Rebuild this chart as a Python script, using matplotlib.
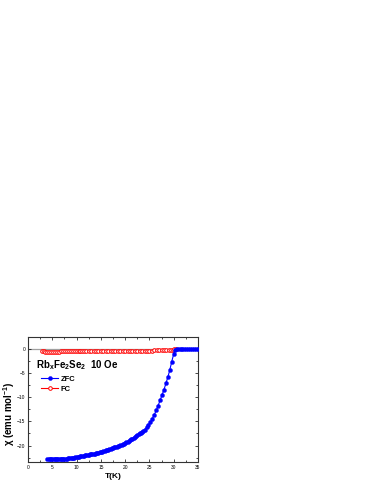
import matplotlib
matplotlib.use("Agg")
import matplotlib.pyplot as plt
from matplotlib.ticker import MultipleLocator

plt.rcParams['font.family'] = ['Liberation Sans', 'DejaVu Sans']
plt.rcParams['mathtext.fontset'] = 'custom'
plt.rcParams['mathtext.rm'] = 'Liberation Sans'
plt.rcParams['mathtext.bf'] = 'Liberation Sans:bold'
plt.rcParams['mathtext.it'] = 'Liberation Sans:italic'

# ZFC curve
t_zfc = [4.0, 4.25, 4.5, 4.75, 5.0, 5.25, 5.5, 5.75, 6.0, 6.25, 6.5, 6.75,
         7.0, 7.25, 7.5, 7.75, 8.0, 8.25, 8.5, 8.75, 9.0, 9.25, 9.5, 9.75,
         10.0, 10.25, 10.5, 10.75, 11.0, 11.25, 11.5, 11.75, 12.0, 12.25,
         12.5, 12.75, 13.0, 13.25, 13.5, 13.75, 14.0, 14.25, 14.5, 14.75,
         15.0, 15.25, 15.5, 15.75, 16.0, 16.25, 16.5, 16.75, 17.0, 17.25,
         17.5, 17.75, 18.0, 18.25, 18.5, 18.75, 19.0, 19.25, 19.5, 19.75,
         20.0, 20.25, 20.5, 20.75, 21.0, 21.25, 21.5, 21.75, 22.0, 22.25,
         22.5, 22.75, 23.0, 23.25, 23.5, 23.75, 24.0,
         24.4, 24.8, 25.2, 25.6, 26.0, 26.4, 26.8, 27.2, 27.6, 28.0, 28.4,
         28.8, 29.2, 29.6, 30.0, 30.3,
         30.6, 31.0, 31.4, 31.8, 32.2, 32.6, 33.0, 33.4, 33.8, 34.2, 34.6,
         35.0]
chi_zfc = [-22.85, -22.85, -22.85, -22.85, -22.85, -22.85, -22.84, -22.83,
           -22.82, -22.81, -22.8, -22.79, -22.77, -22.76, -22.74, -22.71,
           -22.68, -22.65, -22.62, -22.59, -22.55, -22.52, -22.48, -22.44,
           -22.4, -22.35, -22.3, -22.25, -22.2, -22.15, -22.1, -22.05,
           -22.0, -21.95, -21.9, -21.85, -21.8, -21.75, -21.7, -21.65,
           -21.6, -21.53, -21.45, -21.38, -21.3, -21.23, -21.15, -21.08,
           -21.0, -20.92, -20.83, -20.74, -20.65, -20.57, -20.48, -20.39,
           -20.3, -20.21, -20.12, -20.04, -19.95, -19.83, -19.7, -19.58,
           -19.45, -19.32, -19.18, -19.04, -18.9, -18.73, -18.55, -18.38,
           -18.2, -18.03, -17.85, -17.68, -17.5, -17.3, -17.1, -16.9, -16.7,
           -16.2, -15.7, -15.1, -14.4, -13.6, -12.7, -11.7, -10.6, -9.5,
           -8.4, -7.1, -5.8, -4.3, -2.6, -1.0, -0.1,
           0.05, 0.05, 0.05, 0.05, 0.05, 0.05, 0.05, 0.05, 0.05, 0.05, 0.05,
           0.05]

# FC curve
t_fc = [2.8, 3.2, 3.6, 4.0, 4.4, 4.8, 5.2, 5.6, 6.0, 6.4, 6.8, 7.2, 7.6,
        8.0, 8.4, 8.8, 9.2, 9.6, 10.0, 10.4, 10.8, 11.2, 11.6, 12.0, 12.5,
        13.0, 13.5, 14.0, 14.5, 15.0, 15.5, 16.0, 16.5, 17.0, 17.5, 18.0,
        18.5, 19.0, 19.5, 20.0, 20.5, 21.0, 21.5, 22.0, 22.5, 23.0, 23.5,
        24.0, 24.5, 25.0, 25.5, 26.0, 26.5, 27.0, 27.5, 28.0, 28.5, 29.0,
        29.4, 29.8, 30.1, 30.4]
chi_fc = [-0.5, -0.5, -0.52, -0.52, -0.52, -0.52, -0.52, -0.52, -0.52,
          -0.52, -0.5, -0.5, -0.5, -0.5, -0.5, -0.48, -0.48, -0.48, -0.47,
          -0.47, -0.46, -0.46, -0.45, -0.45, -0.44, -0.44, -0.43, -0.43,
          -0.42, -0.42, -0.41, -0.41, -0.4, -0.4, -0.4, -0.39, -0.39, -0.38,
          -0.38, -0.37, -0.37, -0.36, -0.36, -0.35, -0.35, -0.34, -0.34,
          -0.33, -0.33, -0.32, -0.31, -0.3, -0.29, -0.28, -0.27, -0.26,
          -0.24, -0.22, -0.2, -0.15, -0.05, 0.0]

fig = plt.figure(figsize=(3.74, 4.84), dpi=100)
ax = fig.add_axes([0.0749, 0.0455, 0.4545, 0.2583])

ax.axhline(0, color='#a0a0a0', lw=0.9, zorder=1)
ax.plot(t_fc, chi_fc, '-o', color='red', mfc='white', mec='red', ms=2.6,
        mew=0.7, lw=0.8, label='FC', zorder=2)
ax.plot(t_zfc, chi_zfc, '-o', color='blue', ms=2.9, mew=0.3, lw=0.8,
        label='ZFC', zorder=3)

ax.set_xlim(0, 35)
ax.set_ylim(-23.4, 2.5)
ax.xaxis.set_major_locator(MultipleLocator(5))
ax.xaxis.set_minor_locator(MultipleLocator(2.5))
ax.yaxis.set_major_locator(MultipleLocator(5))
ax.yaxis.set_minor_locator(MultipleLocator(2.5))
ax.tick_params(which='both', direction='in', top=True, right=True,
               labelsize=3.5, width=0.5, pad=2)
ax.tick_params(which='major', length=2.2)
ax.tick_params(which='minor', length=1.2)
for s in ax.spines.values():
    s.set_linewidth(0.8)
    s.set_color('#333333')

ax.set_xlabel('T(K)', fontsize=6, fontweight='bold', labelpad=2)
ax.set_ylabel(r'$\mathbf{\chi}$ (emu mol$^{\mathbf{-1}}$)', fontsize=7,
              fontweight='bold')
ax.yaxis.set_label_coords(-0.065, 0.39)

ax.text(1.6, -3.3, r'Rb$_\mathbf{x}$Fe$_\mathbf{2}$Se$_\mathbf{2}$  10 Oe',
        fontsize=7, fontweight='bold', va='center', ha='left')

h, l = ax.get_legend_handles_labels()
ax.legend(h[::-1], l[::-1], loc='upper left', bbox_to_anchor=(0.055, 0.72),
          frameon=False, handlelength=2.2, handletextpad=0.3,
          labelspacing=0.35, borderpad=0, prop={'weight': 'bold', 'size': 5.5})

fig.savefig('out.png', dpi=100)
